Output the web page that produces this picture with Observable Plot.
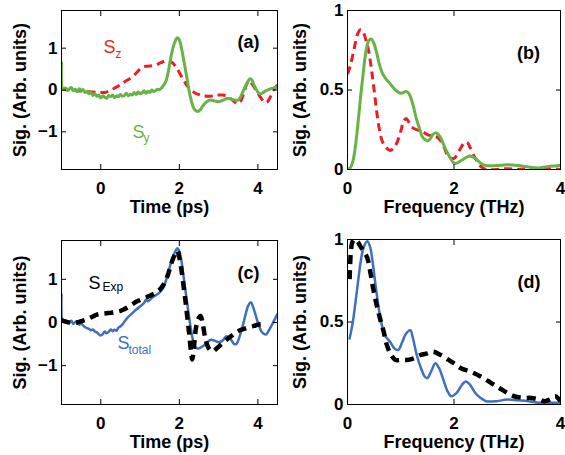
<!DOCTYPE html>
<html><head><meta charset="utf-8">
<script src="https://cdn.jsdelivr.net/npm/d3@7"></script>
<script src="https://cdn.jsdelivr.net/npm/@observablehq/plot@0.6"></script>
<style>
body{margin:0;background:#fff}
#fig{position:relative;width:565px;height:455px;overflow:hidden}
#fig svg{position:absolute}
</style>
</head><body><div id="fig"></div>
<script>
// ---- Panel (a): time-domain Sy (green, solid) and Sz (red, dashed)
const aSyT = [-1.0,-0.98,-0.95,-0.9,-0.85,-0.8,-0.75,-0.7,-0.65,-0.6,-0.55,-0.5,-0.45,-0.4,-0.35,-0.3,-0.25,-0.2,-0.15,-0.1,-0.05,0.0,0.05,0.1,0.15,0.2,0.25,0.3,0.35,0.4,0.45,0.5,0.55,0.6,0.65,0.7,0.75,0.8,0.85,0.9,0.95,1.0,1.05,1.1,1.15,1.2,1.25,1.3,1.35,1.4,1.45,1.5,1.55,1.6,1.65,1.7,1.75,1.8,1.85,1.9,1.95,2.0,2.05,2.1,2.15,2.2,2.25,2.3,2.35,2.4,2.45,2.5,2.55,2.6,2.7,2.8,2.9,3.0,3.1,3.2,3.3,3.4,3.5,3.55,3.6,3.7,3.8,3.85,3.9,4.0,4.05,4.1,4.2,4.3,4.4,4.5];
const aSyV = [0.65,0.04,0.01,0.05,-0.01,0.03,0.06,-0.02,0.02,-0.04,0.03,-0.01,0.01,-0.06,-0.03,-0.09,-0.06,-0.13,-0.09,-0.15,-0.12,-0.19,-0.14,-0.17,-0.2,-0.13,-0.16,-0.12,-0.18,-0.14,-0.16,-0.11,-0.15,-0.13,-0.08,-0.14,-0.1,-0.12,-0.06,-0.11,-0.04,-0.09,-0.07,-0.02,-0.08,-0.03,-0.06,0.0,-0.04,-0.01,0.02,0.01,0.05,0.12,0.19,0.35,0.6,0.85,1.05,1.18,1.25,1.2,1.02,0.78,0.52,0.25,-0.02,-0.24,-0.4,-0.48,-0.51,-0.5,-0.45,-0.38,-0.28,-0.24,-0.26,-0.28,-0.25,-0.21,-0.21,-0.24,-0.24,-0.18,-0.08,0.12,0.27,0.24,0.12,-0.05,-0.09,-0.08,-0.02,0.02,0.05,0.07];
const aSzT = [-1.0,-0.8,-0.6,-0.4,-0.2,0.0,0.1,0.2,0.3,0.4,0.5,0.6,0.7,0.8,0.9,1.0,1.1,1.2,1.3,1.4,1.5,1.6,1.7,1.8,1.9,2.0,2.1,2.2,2.3,2.4,2.5,2.6,2.75,2.9,3.0,3.1,3.2,3.3,3.4,3.47,3.55,3.65,3.72,3.78,3.85,3.95,4.05,4.15,4.22,4.3,4.4,4.5];
const aSzV = [0.02,0.0,-0.02,-0.03,-0.05,-0.06,-0.06,-0.03,0.02,0.07,0.13,0.19,0.25,0.31,0.4,0.5,0.56,0.57,0.58,0.6,0.64,0.68,0.7,0.67,0.57,0.42,0.25,0.1,0.0,-0.07,-0.11,-0.14,-0.15,-0.14,-0.12,-0.12,-0.14,-0.2,-0.28,-0.33,-0.28,-0.05,0.15,0.22,0.15,0.0,-0.15,-0.27,-0.3,-0.2,0.0,0.12];

// ---- Panel (b): spectra of Sy (green) and Sz (red dashed)
const bSyF = [0,0.05,0.1,0.15,0.2,0.25,0.3,0.35,0.4,0.45,0.5,0.55,0.6,0.65,0.7,0.8,0.9,1.0,1.1,1.15,1.2,1.25,1.3,1.35,1.4,1.45,1.5,1.55,1.6,1.67,1.75,1.8,1.9,2.0,2.05,2.15,2.3,2.4,2.5,2.6,2.8,3.0,3.2,3.4,3.6,3.8,4.0];
const bSyV = [0,0.01,0.05,0.15,0.3,0.47,0.62,0.75,0.81,0.82,0.79,0.73,0.66,0.61,0.58,0.54,0.5,0.48,0.49,0.48,0.44,0.38,0.31,0.26,0.21,0.19,0.18,0.19,0.22,0.23,0.2,0.16,0.09,0.04,0.04,0.06,0.085,0.07,0.04,0.025,0.025,0.03,0.025,0.015,0.01,0.02,0.025];
const bSzF = [0,0.05,0.1,0.15,0.2,0.25,0.3,0.35,0.4,0.45,0.5,0.55,0.6,0.65,0.7,0.8,0.9,1.0,1.05,1.1,1.15,1.2,1.3,1.4,1.5,1.6,1.7,1.8,1.9,2.0,2.1,2.2,2.25,2.3,2.4,2.5,2.6,2.8,3.0,3.2,3.4,3.6,3.8,4.0];
const bSzV = [0.6,0.65,0.72,0.8,0.86,0.88,0.86,0.81,0.74,0.63,0.5,0.36,0.25,0.18,0.15,0.12,0.15,0.24,0.3,0.32,0.3,0.27,0.25,0.24,0.22,0.21,0.2,0.15,0.08,0.07,0.12,0.17,0.17,0.14,0.07,0.02,0.0,0.0,0.005,0.0,0.005,0.0,0.005,0.0];

// ---- Panel (c): Stotal (blue) and SExp (black dashed)
const cTotT = [-1.0,-0.98,-0.95,-0.9,-0.85,-0.8,-0.75,-0.7,-0.65,-0.6,-0.55,-0.5,-0.45,-0.4,-0.35,-0.3,-0.25,-0.2,-0.15,-0.1,-0.05,0.0,0.05,0.1,0.15,0.2,0.25,0.3,0.35,0.4,0.45,0.5,0.55,0.6,0.7,0.8,0.9,1.0,1.1,1.15,1.2,1.3,1.4,1.5,1.6,1.7,1.8,1.9,1.95,2.0,2.05,2.1,2.15,2.2,2.25,2.3,2.35,2.4,2.45,2.5,2.6,2.7,2.8,2.9,3.0,3.1,3.2,3.3,3.4,3.45,3.55,3.65,3.75,3.82,3.9,4.0,4.1,4.2,4.3,4.4,4.5];
const cTotV = [0.65,0.04,0.01,0.05,0.02,-0.01,0.04,-0.03,0.01,0.03,-0.05,-0.02,-0.07,-0.11,-0.13,-0.15,-0.18,-0.16,-0.21,-0.23,-0.27,-0.3,-0.27,-0.21,-0.25,-0.22,-0.16,-0.2,-0.17,-0.19,-0.12,-0.09,-0.05,0.02,0.13,0.21,0.3,0.37,0.45,0.53,0.49,0.57,0.63,0.7,0.82,1.1,1.42,1.65,1.72,1.65,1.45,1.12,0.78,0.45,0.12,-0.18,-0.42,-0.56,-0.6,-0.6,-0.55,-0.47,-0.4,-0.42,-0.46,-0.42,-0.32,-0.38,-0.5,-0.5,-0.28,0.05,0.38,0.47,0.3,0.0,-0.22,-0.28,-0.15,0.02,0.2];
const cExpT = [-1.0,-0.9,-0.8,-0.7,-0.6,-0.5,-0.4,-0.3,-0.2,-0.1,0.0,0.1,0.2,0.3,0.4,0.5,0.6,0.7,0.8,0.9,1.0,1.1,1.2,1.3,1.4,1.5,1.6,1.7,1.8,1.9,1.95,2.0,2.05,2.1,2.15,2.2,2.25,2.3,2.33,2.37,2.42,2.48,2.54,2.6,2.67,2.75,2.84,2.95,3.1,3.2,3.3,3.4,3.5,3.6,3.7,3.8,3.9,4.0,4.1,4.2];
const cExpV = [0.06,0.02,0.0,-0.01,0.0,0.03,0.06,0.1,0.14,0.18,0.2,0.21,0.22,0.23,0.25,0.27,0.31,0.36,0.42,0.48,0.52,0.56,0.6,0.64,0.69,0.76,0.88,1.08,1.38,1.6,1.66,1.5,1.25,0.9,0.55,0.15,-0.25,-0.7,-0.86,-0.6,-0.15,0.08,0.15,-0.05,-0.4,-0.6,-0.67,-0.6,-0.48,-0.4,-0.33,-0.26,-0.2,-0.16,-0.13,-0.1,-0.08,-0.05,-0.04,-0.04];

// ---- Panel (d): spectra of Stotal (blue) and SExp (black dashed)
const dTotF = [0.04,0.1,0.15,0.2,0.25,0.3,0.37,0.42,0.47,0.52,0.57,0.62,0.67,0.72,0.8,0.88,0.95,1.03,1.1,1.18,1.23,1.3,1.38,1.45,1.5,1.57,1.65,1.72,1.8,1.88,1.95,2.05,2.15,2.22,2.3,2.4,2.5,2.6,2.8,3.0,3.2,3.4,3.6,3.8,4.0];
const dTotV = [0.4,0.5,0.62,0.75,0.87,0.95,0.99,0.96,0.87,0.74,0.62,0.52,0.45,0.41,0.38,0.34,0.33,0.38,0.43,0.45,0.4,0.3,0.22,0.17,0.16,0.2,0.25,0.22,0.15,0.08,0.05,0.07,0.12,0.14,0.12,0.07,0.04,0.02,0.02,0.03,0.025,0.02,0.01,0.01,0.01];
const dExpF = [0.04,0.08,0.12,0.18,0.24,0.3,0.37,0.43,0.49,0.55,0.62,0.68,0.74,0.82,0.9,1.0,1.12,1.25,1.37,1.5,1.6,1.75,1.9,2.0,2.13,2.3,2.5,2.7,2.85,3.0,3.13,3.3,3.45,3.6,3.7,3.8,3.9,4.0];
const dExpV = [0.76,0.97,1.0,0.99,0.96,0.93,0.89,0.8,0.69,0.6,0.51,0.44,0.36,0.3,0.27,0.27,0.27,0.28,0.3,0.31,0.32,0.3,0.27,0.25,0.22,0.2,0.17,0.13,0.1,0.07,0.05,0.04,0.04,0.03,0.02,0.03,0.05,0.02];

// ---- Tick values and labels
const timeTicks = [0, 2, 4];
const freqTicks = [0, 2, 4];
const sigTicks = [-1, 0, 1];
const specTicks = [0, 0.5, 1];
const yLabel = "Sig. (Arb. units)";
const timeLabel = "Time (ps)";
const freqLabel = "Frequency (THz)";

const GREEN = "#66b446", RED = "#ee1c25", BLUE = "#3f6fc0", BLACK = "#000";
const FONT = "'Liberation Sans', Arial, Helvetica, sans-serif";
const fmt = d => d < 0 ? "\u2212" + Math.abs(d) : String(d);
const zip = (xs, ys) => xs.map((x, i) => ({x, y: ys[i]}));

function panel(o) {
  const lineMarks = o.lines.map(l => Plot.line(zip(l.x, l.y), {
    x: "x", y: "y", stroke: l.color, strokeWidth: l.width,
    strokeDasharray: l.dash || null, strokeLinecap: l.dash ? "butt" : "round",
    curve: "catmull-rom", clip: true
  }));
  const noteMarks = o.notes.map(n => Plot.text([n.text], {
    text: d => d, frameAnchor: "top-left", dx: n.dx, dy: n.dy,
    textAnchor: "start", lineAnchor: "bottom", fill: n.color,
    fontSize: n.size, fontWeight: "normal"
  }));
  const svg = Plot.plot({
    width: o.width, height: o.height,
    marginLeft: o.mL, marginRight: o.mR, marginTop: o.mT, marginBottom: o.mB,
    style: {fontFamily: FONT, fontSize: "17px", fontWeight: "bold", color: "#000", background: "transparent", overflow: "visible"},
    x: {domain: o.xDomain},
    y: {domain: o.yDomain},
    marks: [
      ...lineMarks,
      Plot.frame({stroke: "#000", strokeWidth: 1}),
      Plot.axisX({anchor: "bottom", ticks: o.xTicks, tickSize: -5, tickPadding: 17.5, tickFormat: fmt, label: null, fontSize: 17, fontWeight: "bold"}),
      Plot.axisX({anchor: "top", ticks: o.xTicks, tickSize: -5, tickFormat: () => "", label: null}),
      Plot.axisY({anchor: "left", ticks: o.yTicks, tickSize: -5, tickPadding: 9, tickFormat: fmt, label: null, fontSize: 17, fontWeight: "bold"}),
      Plot.axisY({anchor: "right", ticks: o.yTicks, tickSize: -5, tickFormat: () => "", label: null}),
      Plot.text([yLabel], {text: d => d, frameAnchor: "left", dx: o.yLabDx, rotate: -90, textAnchor: "middle", lineAnchor: "bottom", fontSize: 18, fontWeight: "bold"}),
      Plot.text([o.xLabel], {text: d => d, frameAnchor: "bottom", dy: 43, textAnchor: "middle", lineAnchor: "bottom", fontSize: 18, fontWeight: "bold"}),
      Plot.text([o.tag], {text: d => d, frameAnchor: "top-right", dx: o.tagDx, dy: o.tagDy, lineAnchor: "bottom", textAnchor: "middle", fontSize: 18, fontWeight: "bold"}),
      ...noteMarks
    ]
  });
  svg.style.left = o.left + "px";
  svg.style.top = o.top + "px";
  document.getElementById("fig").appendChild(svg);
}

panel({left: 0, top: 0, width: 282, height: 227, mL: 61, mR: 5, mT: 10, mB: 58,
  xDomain: [-1, 4.5], yDomain: [-1.9, 1.9], xTicks: timeTicks, yTicks: sigTicks,
  xLabel: timeLabel, tag: "(a)", tagDx: -29, tagDy: 37, yLabDx: -36,
  lines: [
    {x: aSzT, y: aSzV, color: RED, width: 3, dash: "8,5"},
    {x: aSyT, y: aSyV, color: GREEN, width: 3}
  ],
  notes: [
    {text: "S", dx: 42, dy: 42, color: RED, size: 18},
    {text: "z", dx: 54, dy: 47, color: RED, size: 12},
    {text: "S", dx: 71, dy: 127, color: GREEN, size: 18},
    {text: "y", dx: 82, dy: 131, color: GREEN, size: 12}
  ]});

panel({left: 282, top: 0, width: 283, height: 227, mL: 65, mR: 5, mT: 10, mB: 58,
  xDomain: [0, 4], yDomain: [0, 1], xTicks: freqTicks, yTicks: specTicks,
  xLabel: freqLabel, tag: "(b)", tagDx: -32, tagDy: 48, yLabDx: -42,
  lines: [
    {x: bSzF, y: bSzV, color: RED, width: 3, dash: "8,5"},
    {x: bSyF, y: bSyV, color: GREEN, width: 3}
  ],
  notes: []});

panel({left: 0, top: 227, width: 282, height: 228, mL: 61, mR: 5, mT: 13, mB: 51,
  xDomain: [-1, 4.5], yDomain: [-1.9, 1.9], xTicks: timeTicks, yTicks: sigTicks,
  xLabel: timeLabel, tag: "(c)", tagDx: -29, tagDy: 38, yLabDx: -36,
  lines: [
    {x: cTotT, y: cTotV, color: BLUE, width: 2.5},
    {x: cExpT, y: cExpV, color: BLACK, width: 4.5, dash: "9,6"}
  ],
  notes: [
    {text: "S", dx: 27, dy: 48, color: BLACK, size: 18},
    {text: "Exp", dx: 41, dy: 50.5, color: BLACK, size: 12},
    {text: "S", dx: 56, dy: 108, color: BLUE, size: 18},
    {text: "total", dx: 67, dy: 113, color: BLUE, size: 12}
  ]});

panel({left: 282, top: 227, width: 283, height: 228, mL: 65, mR: 5, mT: 12, mB: 51,
  xDomain: [0, 4], yDomain: [0, 1], xTicks: freqTicks, yTicks: specTicks,
  xLabel: freqLabel, tag: "(d)", tagDx: -31.5, tagDy: 48, yLabDx: -42,
  lines: [
    {x: dTotF, y: dTotV, color: BLUE, width: 2.5},
    {x: dExpF, y: dExpV, color: BLACK, width: 4.5, dash: "9,6"}
  ],
  notes: []});
</script></body></html>
